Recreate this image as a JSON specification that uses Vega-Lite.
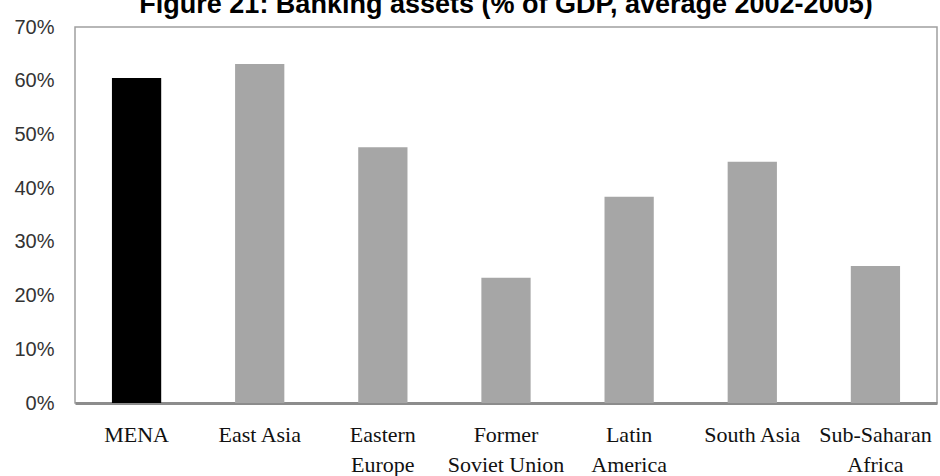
{
  "$schema": "https://vega.github.io/schema/vega-lite/v6.json",
  "autosize": {"type": "none"},
  "width": 862,
  "height": 376,
  "padding": {"left": 75, "top": 27, "right": 3, "bottom": 73},
  "background": "white",
  "title": {
    "text": "Figure 21: Banking assets (% of GDP, average 2002-2005)",
    "font": "Liberation Sans",
    "fontSize": 27,
    "fontWeight": "bold",
    "color": "#000000",
    "anchor": "middle",
    "baseline": "alphabetic",
    "offset": 0,
    "dy": 23
  },
  "data": {
    "values": [
      {"region": "MENA", "assets": 0.605},
      {"region": "East Asia", "assets": 0.631},
      {"region": "Eastern Europe", "assets": 0.476},
      {"region": "Former Soviet Union", "assets": 0.233},
      {"region": "Latin America", "assets": 0.384},
      {"region": "South Asia", "assets": 0.449},
      {"region": "Sub-Saharan Africa", "assets": 0.255}
    ]
  },
  "mark": {"type": "bar"},
  "encoding": {
    "x": {
      "field": "region",
      "type": "nominal",
      "sort": null,
      "scale": {"paddingInner": 0.6, "paddingOuter": 0.3},
      "axis": {
        "title": null,
        "labelAngle": 0,
        "labelFont": "Liberation Serif",
        "labelFontSize": 22,
        "labelColor": "#111111",
        "labelLineHeight": 30,
        "labelPadding": 21,
        "labelBaseline": "top",
        "ticks": false,
        "domain": true,
        "domainColor": "#8c8c8c",
        "domainWidth": 3,
        "labelExpr": "datum.value == 'Eastern Europe' ? ['Eastern', 'Europe'] : datum.value == 'Former Soviet Union' ? ['Former', 'Soviet Union'] : datum.value == 'Latin America' ? ['Latin', 'America'] : datum.value == 'Sub-Saharan Africa' ? ['Sub-Saharan', 'Africa'] : datum.value"
      }
    },
    "y": {
      "field": "assets",
      "type": "quantitative",
      "scale": {"domain": [0, 0.7], "nice": false},
      "axis": {
        "title": null,
        "values": [0, 0.1, 0.2, 0.3, 0.4, 0.5, 0.6, 0.7],
        "format": ".0%",
        "grid": false,
        "domain": false,
        "ticks": false,
        "labelPadding": 21,
        "labelFont": "Liberation Sans",
        "labelFontSize": 20,
        "labelColor": "#333333"
      }
    },
    "color": {
      "condition": {"test": "datum.region == 'MENA'", "value": "#000000"},
      "value": "#a6a6a6"
    }
  },
  "config": {
    "view": {"stroke": "#a0a0a0", "strokeWidth": 1.5}
  }
}
